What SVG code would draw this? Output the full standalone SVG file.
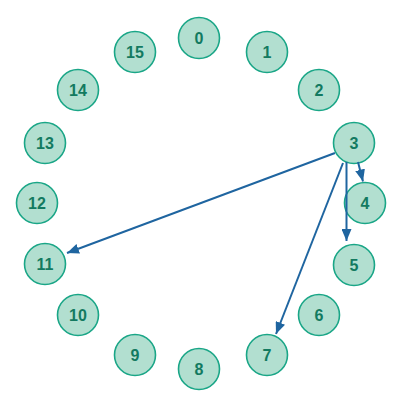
<svg xmlns="http://www.w3.org/2000/svg" width="400" height="408" viewBox="0 0 400 408">
<style>
.node circle{fill:#b2dfd0;stroke:#1aa687;stroke-width:1.6}
.node text{font-family:"Liberation Sans",Arial,sans-serif;font-weight:bold;font-size:16px;fill:#137a60;text-anchor:middle;dominant-baseline:central}
.edge{stroke:#1f65a0;stroke-width:2;fill:none;marker-end:url(#arr)}
</style>
<defs>
<marker id="arr" markerUnits="userSpaceOnUse" markerWidth="12" markerHeight="10" refX="12" refY="5" orient="auto">
<path d="M0,0 L12,5 L0,10 z" fill="#1f65a0"/>
</marker>
</defs>
<rect width="400" height="408" fill="#ffffff"/>
<g id="n0" class="node"><circle cx="199" cy="38" r="20.5"/><text x="199" y="38">0</text></g>
<g id="n1" class="node"><circle cx="267" cy="52" r="20.5"/><text x="267" y="52">1</text></g>
<g id="n2" class="node"><circle cx="319" cy="90" r="20.5"/><text x="319" y="90">2</text></g>
<g id="n3" class="node"><circle cx="354" cy="143" r="20.5"/><text x="354" y="143">3</text></g>
<g id="n4" class="node"><circle cx="365" cy="203" r="20.5"/><text x="365" y="203">4</text></g>
<g id="n5" class="node"><circle cx="354" cy="265" r="20.5"/><text x="354" y="265">5</text></g>
<g id="n6" class="node"><circle cx="319" cy="315" r="20.5"/><text x="319" y="315">6</text></g>
<g id="n7" class="node"><circle cx="267" cy="355" r="20.5"/><text x="267" y="355">7</text></g>
<g id="n8" class="node"><circle cx="199" cy="369" r="20.5"/><text x="199" y="369">8</text></g>
<g id="n9" class="node"><circle cx="135" cy="355" r="20.5"/><text x="135" y="355">9</text></g>
<g id="n10" class="node"><circle cx="78" cy="315" r="20.5"/><text x="78" y="315">10</text></g>
<g id="n11" class="node"><circle cx="45" cy="264" r="20.5"/><text x="45" y="264">11</text></g>
<g id="n12" class="node"><circle cx="37" cy="203" r="20.5"/><text x="37" y="203">12</text></g>
<g id="n13" class="node"><circle cx="45" cy="143" r="20.5"/><text x="45" y="143">13</text></g>
<g id="n14" class="node"><circle cx="78" cy="90" r="20.5"/><text x="78" y="90">14</text></g>
<g id="n15" class="node"><circle cx="135" cy="52" r="20.5"/><text x="135" y="52">15</text></g>
<g id="connectors">
<line class="edge" x1="335" y1="153" x2="67" y2="253"/>
<line class="edge" x1="358" y1="162" x2="363" y2="181.5"/>
<line class="edge" x1="346.5" y1="162" x2="346.5" y2="241"/>
<line class="edge" x1="343" y1="163" x2="276" y2="334"/>
</g>
</svg>
